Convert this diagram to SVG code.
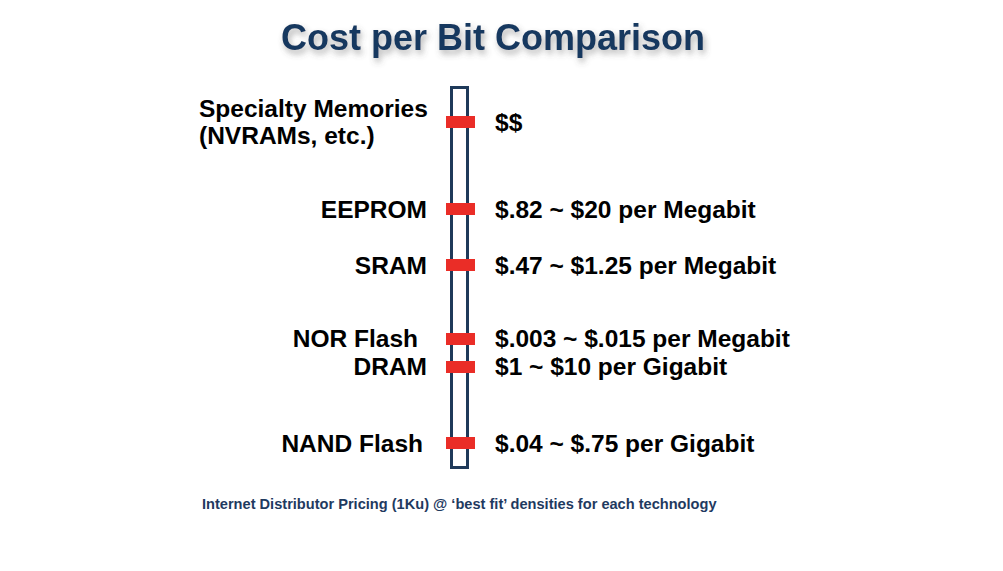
<svg xmlns="http://www.w3.org/2000/svg" width="1003" height="571" viewBox="0 0 1003 571">
  <defs>
    <filter id="titleShadow" x="-10%" y="-40%" width="120%" height="200%">
      <feDropShadow dx="2" dy="4" stdDeviation="3" flood-color="#555" flood-opacity="0.45"/>
    </filter>
    <style>
      .title { font-family: "Liberation Sans", Arial, sans-serif; font-weight: bold; font-size: 36px; fill: #17375e; }
      .lbl { font-family: "Liberation Sans", Arial, sans-serif; font-weight: bold; font-size: 24.5px; fill: #000; }
      .note { font-family: "Liberation Sans", Arial, sans-serif; font-weight: bold; font-size: 14.6px; fill: #1f3a5f; }
      .scale { fill: #fff; stroke: #1f3a5a; stroke-width: 3; }
      .tick { fill: #ea2d27; }
    </style>
  </defs>

  <rect width="1003" height="571" fill="#fff"/>

  <text id="title" class="title" x="493" y="50" text-anchor="middle" filter="url(#titleShadow)">Cost per Bit Comparison</text>

  <!-- vertical cost scale -->
  <g id="connectors">
    <rect class="scale" x="451.5" y="87.5" width="16" height="380"/>
  </g>

  <g id="specialty">
    <rect class="tick" x="446" y="116" width="29" height="12"/>
    <text class="lbl" x="199" y="117">Specialty Memories</text>
    <text class="lbl" x="199" y="144">(NVRAMs, etc.)</text>
    <text class="lbl" x="495" y="131">$$</text>
  </g>

  <g id="eeprom">
    <rect class="tick" x="446" y="203" width="29" height="12"/>
    <text class="lbl" x="427" y="217.5" text-anchor="end">EEPROM</text>
    <text class="lbl" x="495" y="217.5">$.82 ~ $20 per Megabit</text>
  </g>

  <g id="sram">
    <rect class="tick" x="446" y="259" width="29" height="12"/>
    <text class="lbl" x="427" y="273.5" text-anchor="end">SRAM</text>
    <text class="lbl" x="495" y="273.5">$.47 ~ $1.25 per Megabit</text>
  </g>

  <g id="nor-flash">
    <rect class="tick" x="446" y="333" width="29" height="12"/>
    <text class="lbl" x="418" y="347" text-anchor="end">NOR Flash</text>
    <text class="lbl" x="495" y="347">$.003 ~ $.015 per Megabit</text>
  </g>

  <g id="dram">
    <rect class="tick" x="446" y="361" width="29" height="12"/>
    <text class="lbl" x="427" y="375" text-anchor="end">DRAM</text>
    <text class="lbl" x="495" y="375">$1 ~ $10 per Gigabit</text>
  </g>

  <g id="nand-flash">
    <rect class="tick" x="446" y="437" width="29" height="12"/>
    <text class="lbl" x="423" y="451.5" text-anchor="end">NAND Flash</text>
    <text class="lbl" x="495" y="451.5">$.04 ~ $.75 per Gigabit</text>
  </g>

  <text id="footnote" class="note" x="202" y="508.5">Internet Distributor Pricing (1Ku) @ ‘best fit’ densities for each technology</text>
</svg>
